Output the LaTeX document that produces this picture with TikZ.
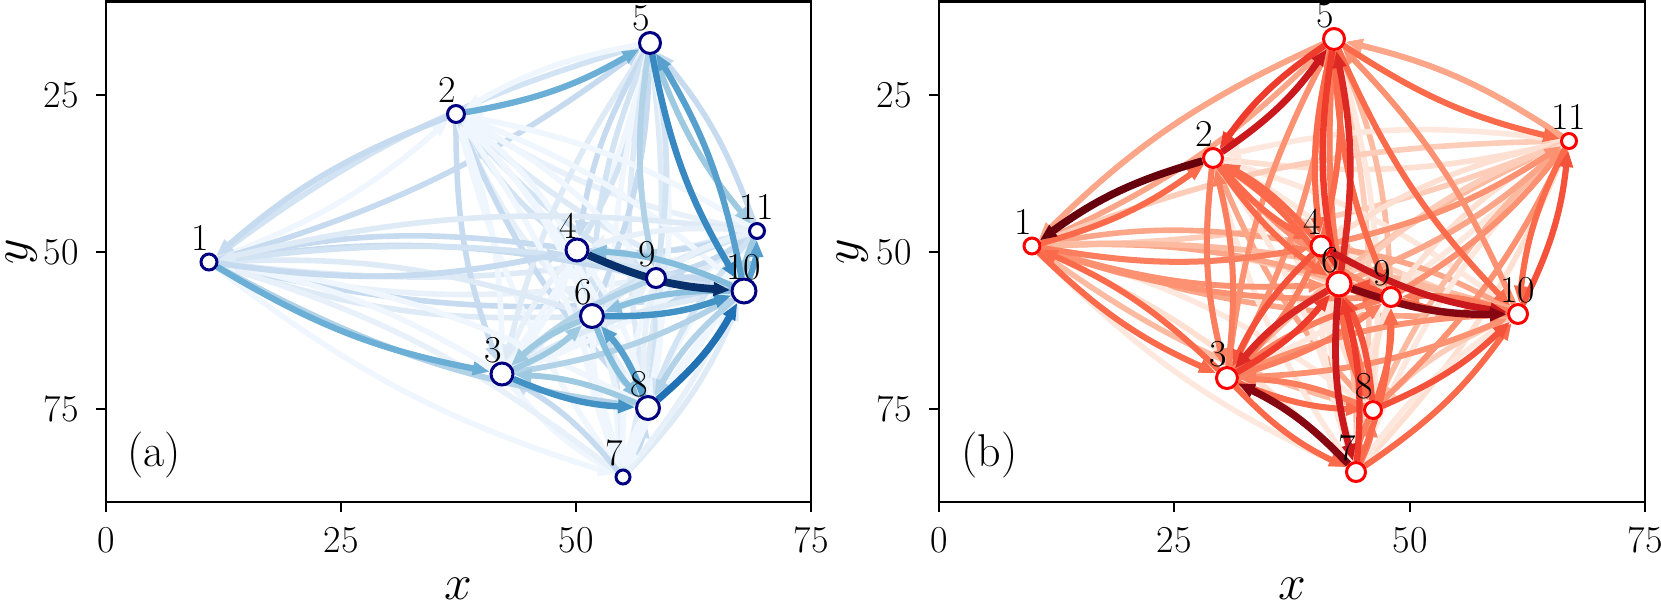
\documentclass[tikz,border=0pt]{standalone}
\usetikzlibrary{arrows.meta}
\definecolor{B0}{HTML}{F7FBFF}
\definecolor{B1}{HTML}{DEEBF7}
\definecolor{B2}{HTML}{C6DBEF}
\definecolor{B3}{HTML}{9ECAE1}
\definecolor{B4}{HTML}{6BAED6}
\definecolor{B5}{HTML}{4292C6}
\definecolor{B6}{HTML}{2171B5}
\definecolor{B7}{HTML}{08519C}
\definecolor{B8}{HTML}{08306B}
\definecolor{R0}{HTML}{FFF5F0}
\definecolor{R1}{HTML}{FEE0D2}
\definecolor{R2}{HTML}{FCBBA1}
\definecolor{R3}{HTML}{FC9272}
\definecolor{R4}{HTML}{FB6A4A}
\definecolor{R5}{HTML}{EF3B2C}
\definecolor{R6}{HTML}{CB181D}
\definecolor{R7}{HTML}{A50F15}
\definecolor{R8}{HTML}{67000D}
\definecolor{navyc}{HTML}{000080}
\colorlet{pa0}{B0!40!B1}
\colorlet{pa1}{B1}
\colorlet{pa2}{B1!50!B2}
\colorlet{pa3}{B2}
\colorlet{pa4}{B0!70!B1}
\colorlet{pb0}{R1}
\colorlet{pb1}{R1!50!R2}
\colorlet{pb2}{R2}
\colorlet{pb3}{R2!50!R3}
\colorlet{pb4}{R0!40!R1}
\pgfdeclarelayer{edges}
\pgfsetlayers{edges,main}
\begin{document}
\begin{tikzpicture}[x=0.5pt,y=-0.5pt,
  vtx/.style={circle, fill=white, line width=1.5pt, inner sep=0pt},
  va/.style={vtx, draw=navyc},
  vb/.style={vtx, draw=red},
  lbl/.style={anchor=south west, inner sep=0pt, font=\fontsize{19}{22}\selectfont},
  ticklbl/.style={inner sep=0pt, font=\fontsize{19}{22}\selectfont},
  axlbl/.style={inner sep=0pt, font=\fontsize{25}{30}\selectfont},
  panlbl/.style={anchor=west, inner sep=0pt, font=\fontsize{23}{27}\selectfont},
  frame/.style={line width=1.3pt, black},
  ed/.style={-{Triangle[length=8.5pt,width=6.5pt]}, line width=2.8pt, bend right=10}
]
\useasboundingbox (0,0) rectangle (1661,607);

% ---------- axes ----------
\draw[frame] (106,1.5) rectangle (811,502);
\draw[frame] (939,1.5) rectangle (1645,502);
\foreach \xx/\t in {106/0,341/25,576/50,811/75}{
  \draw[frame] (\xx,502) -- (\xx,512);
  \node[ticklbl] (xta\t) at (\xx,540) {\t};}
\foreach \xx/\t in {939/0,1174/25,1410/50,1645/75}{
  \draw[frame] (\xx,502) -- (\xx,512);
  \node[ticklbl] (xtb\t) at (\xx,540) {\t};}
\foreach \yy/\t in {95/25,252/50,409/75}{
  \draw[frame] (106,\yy) -- (96,\yy);
  \node[ticklbl, anchor=east] (yta\t) at (79,\yy) {\t};
  \draw[frame] (939,\yy) -- (929,\yy);
  \node[ticklbl, anchor=east] (ytb\t) at (912,\yy) {\t};}
\node[axlbl] (xla) at (458,589) {$x$};
\node[axlbl] (xlb) at (1292,589) {$x$};
\node[axlbl, rotate=90] (yla) at (22,252) {$y$};
\node[axlbl, rotate=90] (ylb) at (853,252) {$y$};
\node[panlbl] (pa) at (127,455) {(a)};
\node[panlbl] (pb) at (961,455) {(b)};

% ---------- nodes ----------
\foreach \n/\x/\y/\r in {1/209/262/9.5, 2/456/114/10, 3/502/374/12.5, 4/577/250/12.5,
  5/650/43/12, 6/592/316/13, 7/623/477/8.5, 8/648/408/13, 9/656/278/11,
  10/744/291/13.5, 11/757/231/9}{
  \node[va, minimum size={\r pt-1.5pt}] (a\n) at (\x,\y) {};}
\foreach \n/\x/\y in {1/209/262, 2/456/114, 3/502/374, 4/577/250, 5/650/43, 6/592/316,
  7/623/477, 8/648/408, 9/656/278, 10/744/291, 11/757/231}{
  \node[lbl] (la\n) at (\x-18,\y-11) {\n};}
\foreach \n/\x/\y/\r in {1/1032/246/9.5, 2/1213/158/11, 3/1227/378/12, 4/1321/246/11.5,
  5/1334/39/12, 6/1339/284/13.5, 7/1356/472/11, 8/1373/410/10, 9/1391/297/11,
  10/1518/314/11, 11/1569/141/9}{
  \node[vb, minimum size={\r pt-1.5pt}] (b\n) at (\x,\y) {};}
\foreach \n/\x/\y in {1/1032/246, 2/1213/158, 3/1227/378, 4/1321/246, 5/1334/39,
  6/1339/284, 7/1356/472, 8/1373/410, 9/1391/297, 10/1518/314, 11/1569/141}{
  \node[lbl] (lb\n) at (\x-18,\y-11) {\n};}

% ---------- edges ----------
\begin{pgfonlayer}{edges}
\foreach \i in {1,...,11}{\foreach \j in {1,...,11}{%
  \ifnum\i=\j\relax\else
    \pgfmathtruncatemacro\k{mod(3*\i+7*\j+\i*\j,5)}%
    \draw[ed, draw=pa\k] (a\i) to (a\j);
    \draw[ed, draw=pb\k] (b\i) to (b\j);
  \fi}}
\foreach \s/\t/\c/\w in {
  2/1/B2/2.9pt, 1/4/B2/2.9pt, 9/3/B2!50!B3/2.9pt, 1/8/B2!50!B3/2.9pt,
  3/10/B2!50!B3/2.9pt, 5/9/B2!50!B3/2.9pt, 10/8/B2!50!B3/2.9pt,
  8/3/B3/2.9pt, 6/3/B3/2.9pt, 3/6/B3/2.9pt, 5/11/B3/2.9pt, 11/10/B3/2.9pt,
  10/4/B3!50!B4/3pt, 10/6/B3!60!B4/3pt, 6/8/B3!50!B4/3pt,
  2/5/B4/3.1pt, 1/3/B4/3.1pt, 10/5/B4!50!B5/3.1pt, 10/11/B4!50!B5/3.1pt,
  8/6/B4!50!B5/3.2pt, 3/8/B5/3.2pt, 6/10/B5/3.2pt, 5/10/B5!70!B6/3.2pt,
  8/10/B6/3.5pt, 4/10/B8/3.9pt}{
  \draw[ed, draw=\c, line width=\w] (a\s) to (a\t);}
\foreach \s/\t/\c/\w in {
  5/1/R2!50!R3/2.9pt, 11/5/R2!50!R3/2.9pt, 6/11/R2!50!R3/2.9pt,
  10/3/R3/2.9pt, 3/10/R3/2.9pt, 5/3/R3/2.9pt, 4/11/R3/2.9pt, 9/11/R3/2.9pt,
  8/11/R3/2.9pt, 10/5/R3/2.9pt, 3/5/R3/2.9pt, 1/6/R3/2.9pt, 1/9/R3/2.9pt, 2/9/R3/2.9pt,
  3/2/R3!50!R4/3pt, 3/4/R3!50!R4/3pt, 2/3/R3!50!R4/3pt, 10/9/R3!50!R4/3pt,
  8/3/R3!50!R4/3pt, 7/8/R3!50!R4/3pt, 8/7/R3!50!R4/3pt, 3/9/R3!50!R4/3pt,
  9/3/R3!50!R4/3pt, 5/8/R3!50!R4/3pt, 1/4/R3!50!R4/3pt,
  1/2/R4/3pt, 1/3/R4/3pt, 3/1/R4/3pt, 2/4/R4/3pt, 2/6/R4/3pt, 4/2/R4/3pt,
  6/2/R4/3pt, 3/7/R4/3pt, 5/4/R4/3pt, 4/5/R4/3pt, 5/9/R4/3pt, 5/11/R4/3pt,
  5/10/R4/3pt, 9/10/R4/3pt, 8/9/R4/3pt, 7/9/R4/3pt, 6/9/R4/3pt, 3/8/R4/3pt,
  7/10/R4/3pt, 11/10/R4/3pt, 6/8/R4/3pt,
  8/10/R4!50!R5/3.1pt, 4/3/R4!50!R5/3.1pt, 9/6/R4!50!R5/3.1pt, 10/11/R4!50!R5/3.1pt,
  8/6/R4!50!R5/3.1pt,
  5/2/R5/3.2pt, 7/6/R5/3.2pt, 3/6/R5/3.2pt, 5/6/R5/3.2pt, 6/5/R5!50!R6/3.3pt,
  2/5/R6/3.4pt, 6/3/R5!50!R6/3.4pt, 6/7/R6/3.4pt, 4/10/R6/3.4pt,
  7/3/R7!50!R8/3.7pt, 6/10/R7!50!R8/3.7pt, 2/1/R8/3.8pt}{
  \draw[ed, draw=\c, line width=\w] (b\s) to (b\t);}
\end{pgfonlayer}
\end{tikzpicture}
\end{document}
